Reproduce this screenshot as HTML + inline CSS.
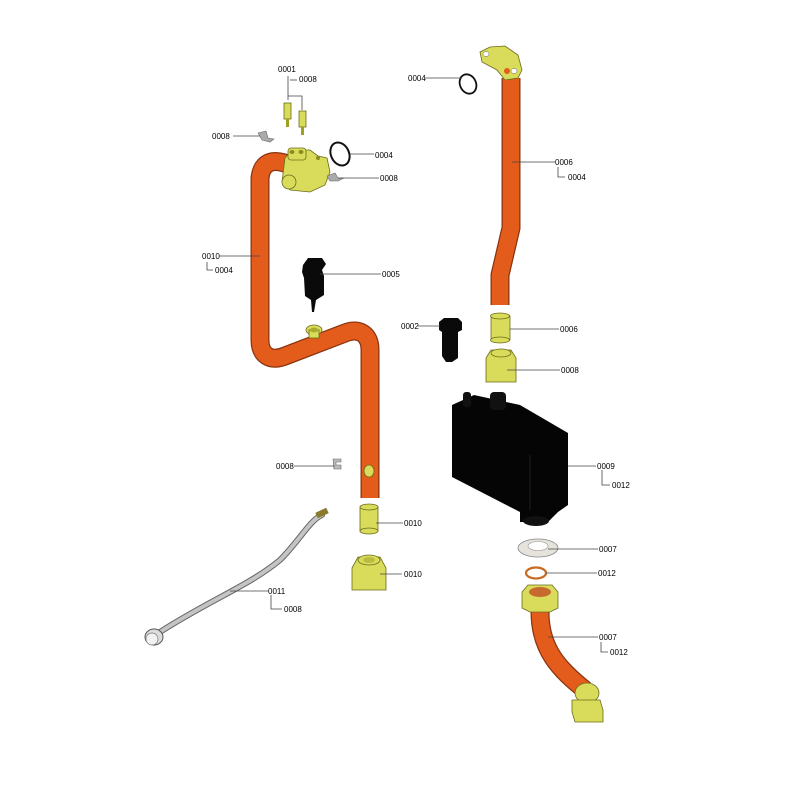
<!DOCTYPE html>
<html><head><meta charset="utf-8"><style>
html,body{margin:0;padding:0;background:#fff;}
svg{display:block;}
text{font-family:"Liberation Sans",sans-serif;font-size:8px;fill:#000;}
.ld{stroke:#444;stroke-width:0.8;fill:none;}
.br{fill:#d9dc5a;stroke:#6b6b1a;stroke-width:0.8;}
.pipeo{fill:none;stroke:#8a3410;stroke-linecap:butt;stroke-linejoin:round;}
.pipei{fill:none;stroke:#e45c1c;stroke-linecap:butt;stroke-linejoin:round;}
</style></head><body>
<svg width="800" height="800" viewBox="0 0 800 800" xmlns="http://www.w3.org/2000/svg">
<rect width="800" height="800" fill="#fff"/>

<!-- LEFT PIPE -->
<path class="pipeo" stroke-width="19" d="M292,166 C275,158 262,160 260,178 L260,340 C260,355 270,362 285,356 L345,333 C360,327 370,335 370,350 L370,498"/>
<path class="pipei" stroke-width="16.5" d="M292,166 C275,158 262,160 260,178 L260,340 C260,355 270,362 285,356 L345,333 C360,327 370,335 370,350 L370,498"/>
<!-- small fitting on pipe -->
<ellipse class="br" cx="314" cy="330" rx="8" ry="5"/>
<rect class="br" x="309" y="330" width="10" height="8"/>
<ellipse cx="314" cy="330" rx="4" ry="2.5" fill="#a9ab30"/>
<ellipse class="br" cx="369" cy="471" rx="5" ry="6"/>

<!-- top valve body -->
<path class="br" d="M285,158 L292,150 L310,150 L318,156 L327,158 L330,172 L325,185 L310,192 L290,190 L282,182 Z"/>
<rect class="br" x="288" y="148" width="18" height="12" rx="3"/>
<ellipse cx="292" cy="152" rx="2.5" ry="2" fill="#8a8a20"/>
<ellipse cx="301" cy="152" rx="2.5" ry="2" fill="#8a8a20"/>
<ellipse class="br" cx="289" cy="182" rx="7" ry="7"/>
<ellipse cx="318" cy="158" rx="2" ry="2" fill="#8a8a20"/>

<!-- sensors 0001 -->
<g>
<rect class="br" x="284" y="103" width="7" height="16"/>
<rect x="286" y="119" width="3" height="8" fill="#a0a020"/>
<rect class="br" x="299" y="111" width="7" height="16"/>
<rect x="301" y="127" width="3" height="8" fill="#a0a020"/>
</g>
<!-- clips -->
<path d="M258,133 L266,131 L268,138 L274,139 L270,142 L262,140 Z" fill="#aaa" stroke="#666" stroke-width="0.6"/>
<path d="M327,176 L335,173 L338,178 L344,178 L338,181 L330,181 Z" fill="#aaa" stroke="#666" stroke-width="0.6"/>
<path d="M333,459 L341,459 L341,462 L336,462 L336,465 L341,465 L341,469 L334,469 Z" fill="#bbb" stroke="#666" stroke-width="0.6"/>
<!-- o-ring -->
<ellipse cx="340" cy="154" rx="9" ry="12" transform="rotate(-25 340 154)" fill="none" stroke="#111" stroke-width="2"/>

<!-- 0005 black part -->
<path d="M303,265 L308,258 L322,258 L326,264 L322,270 L324,276 L324,295 L316,300 L314,312 L312,312 L311,300 L305,296 L304,278 L302,272 Z" fill="#0a0a0a"/>

<!-- sleeve and nut left -->
<rect class="br" x="360" y="507" width="18" height="24"/>
<ellipse class="br" cx="369" cy="507" rx="9" ry="3"/>
<ellipse class="br" cx="369" cy="531" rx="9" ry="3"/>
<path class="br" d="M352,568 L358,557 L380,557 L386,568 L386,590 L352,590 Z"/>
<ellipse class="br" cx="369" cy="560" rx="11" ry="5"/>
<ellipse cx="369" cy="560" rx="6" ry="3" fill="#b9bc40"/>

<!-- flexible hose 0011 -->
<path d="M160,632 C210,600 250,585 280,560 C300,540 310,520 322,515" fill="none" stroke="#666" stroke-width="6" stroke-linecap="round"/>
<path d="M160,632 C210,600 250,585 280,560 C300,540 310,520 322,515" fill="none" stroke="#c4c4c4" stroke-width="4" stroke-linecap="round"/>
<rect x="316" y="510" width="12" height="6" fill="#8a7a2a" transform="rotate(-25 322 513)"/>
<ellipse cx="154" cy="637" rx="9" ry="8" fill="#ddd" stroke="#555" stroke-width="1"/>
<ellipse cx="152" cy="639" rx="6" ry="6" fill="#f2f2f2" stroke="#777" stroke-width="0.7"/>

<!-- RIGHT UPPER PIPE -->
<path class="pipeo" stroke-width="19" d="M511,78 L511,228 L500,275 L500,305"/>
<path class="pipei" stroke-width="16.5" d="M511,78 L511,228 L500,275 L500,305"/>
<!-- top flange -->
<path class="br" d="M480,52 L490,47 L505,46 L518,55 L522,70 L518,78 L505,80 L497,70 L482,62 Z"/>
<ellipse cx="486" cy="54" rx="3" ry="2.5" fill="#fff" stroke="#666" stroke-width="0.5"/>
<ellipse cx="514" cy="71" rx="3" ry="2.5" fill="#fff" stroke="#666" stroke-width="0.5"/>
<ellipse cx="507" cy="71" rx="3" ry="3" fill="#e45c1c"/>
<ellipse cx="468" cy="84" rx="8" ry="10" transform="rotate(-25 468 84)" fill="none" stroke="#111" stroke-width="1.8"/>
<!-- sleeve 0006 -->
<rect class="br" x="491" y="316" width="19" height="24"/>
<ellipse class="br" cx="500" cy="316" rx="9.5" ry="3"/>
<ellipse class="br" cx="500" cy="340" rx="9.5" ry="3"/>
<!-- nut -->
<path class="br" d="M486,358 L491,350 L511,350 L516,358 L516,382 L486,382 Z"/>
<ellipse class="br" cx="501" cy="353" rx="10" ry="4"/>
<!-- 0002 black -->
<path d="M439,322 L444,318 L458,318 L462,322 L462,330 L458,332 L458,358 L452,362 L446,362 L442,356 L442,332 L439,330 Z" fill="#0a0a0a"/>

<!-- black box 0009 -->
<path d="M452,405 L474,395 L520,405 L568,433 L568,505 L558,512 L548,522 L520,522 L520,512 L452,477 Z" fill="#050505"/>
<rect x="463" y="392" width="8" height="15" rx="3" fill="#111"/>
<rect x="490" y="392" width="16" height="18" rx="4" fill="#111"/>
<line x1="530" y1="455" x2="530" y2="510" stroke="#333" stroke-width="0.6"/>
<ellipse cx="536" cy="521" rx="13" ry="5" fill="#111"/>

<!-- washer 0007 -->
<ellipse cx="538" cy="548" rx="20" ry="9" fill="#e6e3dc" stroke="#888" stroke-width="0.8"/>
<ellipse cx="538" cy="546" rx="10" ry="4.5" fill="#fff" stroke="#999" stroke-width="0.6"/>
<!-- copper ring 0012 -->
<ellipse cx="536" cy="573" rx="10" ry="5.5" fill="none" stroke="#c86a20" stroke-width="2.2"/>

<!-- bottom right pipe -->
<path class="pipeo" stroke-width="19" d="M540,612 C540,650 560,670 585,690"/>
<path class="pipei" stroke-width="16.5" d="M540,612 C540,650 560,670 585,690"/>
<path class="br" d="M522,592 L528,585 L552,585 L558,592 L558,608 L550,612 L530,612 L522,608 Z"/>
<ellipse cx="540" cy="592" rx="11" ry="5" fill="#c76a30"/>
<ellipse class="br" cx="587" cy="693" rx="12" ry="10"/>
<path class="br" d="M572,700 L600,700 L603,710 L603,722 L575,722 L572,712 Z"/>

<!-- LEADERS & LABELS -->
<g class="ld">
<line x1="288" y1="76" x2="288" y2="100"/>
<line x1="290" y1="80" x2="297" y2="80"/>
<polyline points="288,96 302,96 302,110"/>
<line x1="233" y1="136" x2="260" y2="136"/>
<line x1="350" y1="154" x2="374" y2="154"/>
<line x1="338" y1="178" x2="379" y2="178"/>
<line x1="219" y1="256" x2="260" y2="256"/>
<polyline points="207,262 207,270 213,270"/>
<line x1="320" y1="274" x2="381" y2="274"/>
<line x1="294" y1="466" x2="335" y2="466"/>
<line x1="376" y1="523" x2="403" y2="523"/>
<line x1="380" y1="574" x2="402" y2="574"/>
<line x1="230" y1="591" x2="268" y2="591"/>
<polyline points="271,595 271,609 282,609"/>
<line x1="425" y1="78" x2="462" y2="78"/>
<line x1="512" y1="162" x2="555" y2="162"/>
<polyline points="558,167 558,177 565,177"/>
<line x1="418" y1="326" x2="440" y2="326"/>
<line x1="510" y1="329" x2="559" y2="329"/>
<line x1="507" y1="370" x2="560" y2="370"/>
<line x1="568" y1="466" x2="596" y2="466"/>
<polyline points="602,470 602,485 610,485"/>
<line x1="548" y1="549" x2="598" y2="549"/>
<line x1="546" y1="573" x2="597" y2="573"/>
<line x1="548" y1="637" x2="598" y2="637"/>
<polyline points="601,642 601,652 608,652"/>
</g>
<text x="278" y="72">0001</text>
<text x="299" y="82">0008</text>
<text x="212" y="139">0008</text>
<text x="375" y="158">0004</text>
<text x="380" y="181">0008</text>
<text x="202" y="259">0010</text>
<text x="215" y="273">0004</text>
<text x="382" y="277">0005</text>
<text x="276" y="469">0008</text>
<text x="404" y="526">0010</text>
<text x="404" y="577">0010</text>
<text x="268" y="594">0011</text>
<text x="284" y="612">0008</text>
<text x="408" y="81">0004</text>
<text x="555" y="165">0006</text>
<text x="568" y="180">0004</text>
<text x="401" y="329">0002</text>
<text x="560" y="332">0006</text>
<text x="561" y="373">0008</text>
<text x="597" y="469">0009</text>
<text x="612" y="488">0012</text>
<text x="599" y="552">0007</text>
<text x="598" y="576">0012</text>
<text x="599" y="640">0007</text>
<text x="610" y="655">0012</text>
</svg>
</body></html>
